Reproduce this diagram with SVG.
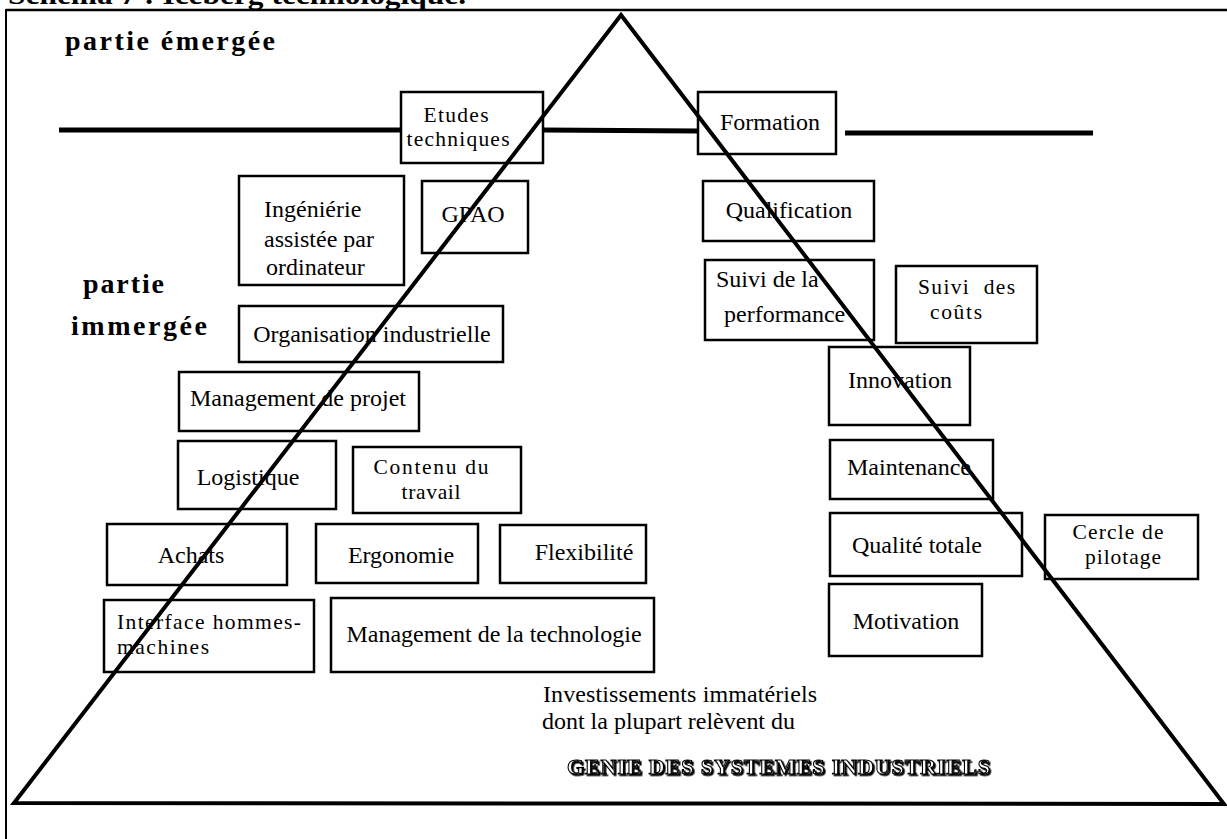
<svg xmlns="http://www.w3.org/2000/svg" width="1227" height="839" viewBox="0 0 1227 839">
<style>
.bx{fill:none;stroke:#000;stroke-width:2.5}
.t{font-family:'Liberation Serif','Tinos','Times New Roman','DejaVu Serif','Noto Serif',serif;font-size:24px;font-weight:normal;fill:#000}
.s{font-size:21.5px}
.m{text-anchor:middle}
.cap{font-family:'Liberation Serif','Tinos','Times New Roman','DejaVu Serif',serif;font-size:27px;font-weight:bold;fill:#000}
.lbl{font-family:'Liberation Serif','Tinos','Times New Roman','DejaVu Serif',serif;font-size:28px;font-weight:bold;fill:#000}
.gsi{font-family:'Liberation Serif','Tinos','Times New Roman','DejaVu Serif',serif;font-size:22px;font-weight:bold;fill:#fff;stroke:#000;stroke-width:1.1}
</style>
<defs>
<filter id="shadow" x="-5%" y="-30%" width="110%" height="160%">
<feDropShadow dx="1.6" dy="1.6" stdDeviation="0" flood-color="#000"/>
</filter>
</defs>
<rect x="0" y="0" width="1227" height="839" fill="#fff"/>
<text class="cap" x="8" y="4" textLength="458" lengthAdjust="spacingAndGlyphs">Schéma 7 : Iceberg technologique.</text>
<g id="frame" fill="none" stroke="#000">
<line x1="6" y1="10" x2="1227" y2="10" stroke-width="2.5"/>
<line x1="6" y1="9" x2="6" y2="839" stroke-width="2"/>
</g>
<text class="lbl" x="65" y="50" textLength="210">partie  émergée</text>
<text class="lbl" x="83" y="293" textLength="81">partie</text>
<text class="lbl" x="71" y="335" textLength="136">immergée</text>

<g id="connectors" fill="none" stroke="#000">
<line x1="59" y1="130" x2="401" y2="130" stroke-width="5"/>
<line x1="543" y1="130" x2="698" y2="131" stroke-width="5"/>
<line x1="845" y1="133" x2="1093" y2="133" stroke-width="5"/>
</g>

<g id="n-etudes"><rect class="bx" x="401" y="92" width="142" height="71"/><text class="t s m" x="456" y="122" textLength="65">Etudes</text><text class="t s m" x="458" y="146" textLength="103">techniques</text></g>
<g id="n-formation"><rect class="bx" x="698" y="92" width="138" height="62"/><text class="t m" x="770" y="130">Formation</text></g>
<g id="n-ingenierie"><rect class="bx" x="239" y="176" width="165" height="109"/><text class="t" x="264" y="217">Ingéniérie</text><text class="t" x="264" y="247">assistée par</text><text class="t" x="266" y="275">ordinateur</text></g>
<g id="n-gpao"><rect class="bx" x="422" y="181" width="106" height="72"/><text class="t m" x="473" y="222">GPAO</text></g>
<g id="n-organisation"><rect class="bx" x="239" y="306" width="264" height="56"/><text class="t m" x="372" y="342">Organisation industrielle</text></g>
<g id="n-mgmt-projet"><rect class="bx" x="179" y="372" width="240" height="59"/><text class="t m" x="298" y="406">Management de projet</text></g>
<g id="n-qualification"><rect class="bx" x="703" y="181" width="171" height="60"/><text class="t m" x="789" y="218">Qualification</text></g>
<g id="n-suivi-perf"><rect class="bx" x="705" y="260" width="169" height="80"/><text class="t" x="716" y="287">Suivi de la</text><text class="t" x="724" y="322">performance</text></g>
<g id="n-suivi-couts"><rect class="bx" x="896" y="266" width="141" height="77"/><text class="t s" x="918" y="294" textLength="97" xml:space="preserve">Suivi  des</text><text class="t s" x="930" y="319" textLength="52">coûts</text></g>
<g id="n-innovation"><rect class="bx" x="829" y="347" width="141" height="78"/><text class="t m" x="900" y="388">Innovation</text></g>
<g id="n-maintenance"><rect class="bx" x="830" y="440" width="163" height="59"/><text class="t m" x="909" y="475">Maintenance</text></g>
<g id="n-qualite"><rect class="bx" x="830" y="513" width="192" height="63"/><text class="t m" x="917" y="553">Qualité totale</text></g>
<g id="n-cercle"><rect class="bx" x="1045" y="515" width="153" height="64"/><text class="t s m" x="1118" y="539" textLength="91">Cercle de</text><text class="t s m" x="1123" y="564" textLength="76">pilotage</text></g>
<g id="n-motivation"><rect class="bx" x="829" y="584" width="153" height="72"/><text class="t m" x="906" y="629">Motivation</text></g>
<g id="n-logistique"><rect class="bx" x="178" y="441" width="158" height="68"/><text class="t m" x="248" y="485">Logistique</text></g>
<g id="n-contenu"><rect class="bx" x="353" y="447" width="168" height="66"/><text class="t s m" x="431" y="474" textLength="115">Contenu du</text><text class="t s m" x="431" y="499" textLength="59">travail</text></g>
<g id="n-achats"><rect class="bx" x="107" y="524" width="180" height="61"/><text class="t m" x="191" y="563">Achats</text></g>
<g id="n-ergonomie"><rect class="bx" x="316" y="524" width="162" height="59"/><text class="t m" x="401" y="563">Ergonomie</text></g>
<g id="n-flexibilite"><rect class="bx" x="500" y="525" width="146" height="58"/><text class="t m" x="584" y="560">Flexibilité</text></g>
<g id="n-interface"><rect class="bx" x="104" y="600" width="210" height="72"/><text class="t s" x="117" y="629" textLength="184">Interface hommes-</text><text class="t s" x="117" y="654" textLength="92">machines</text></g>
<g id="n-mgmt-techno"><rect class="bx" x="331" y="598" width="323" height="74"/><text class="t m" x="494" y="642">Management de la technologie</text></g>

<g id="iceberg">
<polygon points="621,15 1224,804 14,803" fill="none" stroke="#000" stroke-width="4" stroke-linejoin="miter"/>
</g>

<g id="footer">
<text class="t" x="543" y="702" textLength="274">Investissements immatériels</text>
<text class="t" x="542" y="729" textLength="253">dont la plupart relèvent du</text>
<text class="gsi" x="567" y="774" textLength="423" filter="url(#shadow)">GENIE DES SYSTEMES INDUSTRIELS</text>
</g>
</svg>
